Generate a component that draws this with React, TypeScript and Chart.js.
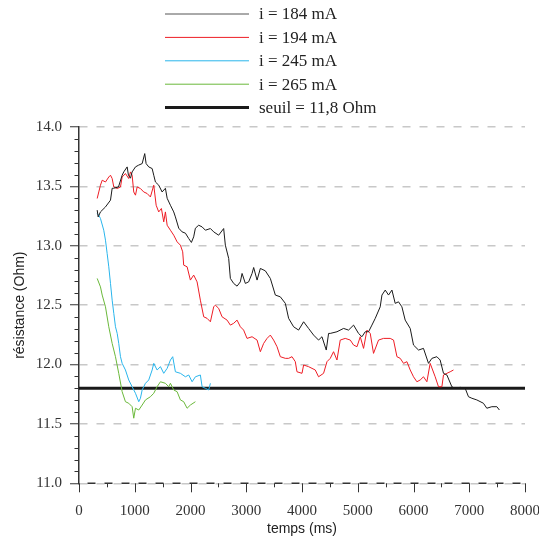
import React, { useEffect, useRef } from "react";
import { Chart, registerables } from "chart.js";

Chart.register(...registerables);

// i = 184 mA
const time184 = [326, 344, 385, 475, 565, 595, 618, 708, 774, 803, 864, 887, 923, 953, 1013, 1066, 1133, 1179, 1204, 1251, 1312, 1341, 1371, 1430, 1491, 1550, 1581, 1640, 1699, 1729, 1789, 1849, 1909, 1968, 2016, 2057, 2088, 2147, 2208, 2267, 2357, 2416, 2505, 2595, 2625, 2685, 2715, 2774, 2835, 2894, 2925, 2984, 3043, 3104, 3133, 3194, 3253, 3342, 3432, 3522, 3611, 3701, 3760, 3849, 3939, 4029, 4118, 4208, 4297, 4358, 4435, 4477, 4507, 4627, 4746, 4835, 4925, 5014, 5075, 5134, 5194, 5254, 5314, 5403, 5434, 5493, 5552, 5613, 5672, 5731, 5792, 5851, 5941, 6000, 6090, 6179, 6269, 6330, 6419, 6478, 6538, 6599, 6688, 6747, 6837, 6927, 6986, 7047, 7136, 7254, 7315, 7405, 7495, 7541];
const res184 = [13.3, 13.243, 13.285, 13.327, 13.384, 13.484, 13.484, 13.495, 13.594, 13.622, 13.664, 13.594, 13.569, 13.622, 13.664, 13.678, 13.692, 13.776, 13.692, 13.664, 13.65, 13.594, 13.537, 13.51, 13.453, 13.484, 13.4, 13.341, 13.285, 13.243, 13.148, 13.117, 13.106, 13.061, 13.028, 13.075, 13.148, 13.173, 13.159, 13.131, 13.145, 13.117, 13.089, 13.145, 13.005, 12.893, 12.725, 12.683, 12.66, 12.696, 12.767, 12.683, 12.696, 12.767, 12.817, 12.711, 12.809, 12.789, 12.725, 12.585, 12.57, 12.515, 12.389, 12.318, 12.29, 12.36, 12.304, 12.248, 12.206, 12.234, 12.122, 12.262, 12.262, 12.276, 12.304, 12.29, 12.332, 12.262, 12.234, 12.276, 12.276, 12.332, 12.389, 12.486, 12.585, 12.627, 12.585, 12.627, 12.515, 12.528, 12.486, 12.374, 12.304, 12.164, 12.122, 12.136, 12.01, 12.052, 12.066, 12.038, 11.926, 11.912, 11.813, 11.8, 11.808, 11.8, 11.729, 11.716, 11.702, 11.674, 11.632, 11.645, 11.645, 11.617];

// i = 194 mA
const time194 = [326, 355, 385, 416, 475, 534, 565, 595, 624, 685, 744, 774, 833, 892, 923, 953, 982, 1013, 1043, 1102, 1161, 1222, 1281, 1341, 1384, 1430, 1478, 1520, 1550, 1581, 1640, 1699, 1760, 1819, 1860, 1878, 1939, 1998, 2057, 2118, 2177, 2237, 2297, 2357, 2416, 2446, 2505, 2566, 2656, 2715, 2774, 2835, 2894, 2953, 3014, 3104, 3194, 3253, 3312, 3373, 3432, 3491, 3552, 3611, 3701, 3760, 3821, 3880, 3910, 4000, 4029, 4118, 4238, 4297, 4387, 4448, 4507, 4566, 4627, 4686, 4776, 4866, 4925, 4986, 5045, 5104, 5165, 5224, 5283, 5373, 5462, 5582, 5642, 5703, 5762, 5821, 5882, 5941, 6000, 6061, 6120, 6179, 6240, 6299, 6389, 6448, 6509, 6538, 6599, 6658, 6717];
const res194 = [13.398, 13.453, 13.51, 13.552, 13.537, 13.579, 13.594, 13.566, 13.495, 13.482, 13.495, 13.579, 13.608, 13.566, 13.622, 13.594, 13.453, 13.426, 13.495, 13.482, 13.453, 13.44, 13.411, 13.51, 13.341, 13.285, 13.314, 13.201, 13.285, 13.173, 13.131, 13.089, 13.033, 13.005, 12.949, 12.837, 12.823, 12.711, 12.753, 12.696, 12.542, 12.402, 12.389, 12.36, 12.486, 12.5, 12.473, 12.402, 12.374, 12.332, 12.347, 12.374, 12.318, 12.29, 12.22, 12.234, 12.206, 12.108, 12.178, 12.22, 12.248, 12.206, 12.15, 12.066, 12.052, 12.052, 12.066, 12.024, 11.939, 11.926, 11.996, 11.982, 11.954, 11.897, 11.926, 12.024, 12.052, 12.108, 12.038, 12.206, 12.22, 12.206, 12.164, 12.15, 12.234, 12.136, 12.29, 12.262, 12.094, 12.206, 12.22, 12.22, 12.206, 12.066, 12.052, 12.01, 12.024, 11.954, 11.897, 11.855, 11.87, 11.897, 11.855, 12.01, 11.897, 11.813, 11.813, 11.912, 11.926, 11.939, 11.954];

// i = 245 mA
const time245 = [326, 355, 385, 444, 475, 505, 534, 565, 595, 624, 654, 685, 713, 744, 774, 833, 892, 953, 1013, 1072, 1102, 1133, 1192, 1251, 1312, 1341, 1401, 1461, 1520, 1581, 1640, 1681, 1729, 1819, 1909, 1968, 2029, 2088, 2177, 2208, 2267, 2326, 2357];
const res245 = [13.272, 13.257, 13.23, 13.131, 13.047, 12.935, 12.823, 12.683, 12.542, 12.431, 12.318, 12.262, 12.178, 12.066, 12.01, 11.954, 11.87, 11.813, 11.758, 11.687, 11.716, 11.786, 11.842, 11.87, 11.954, 12.01, 11.954, 11.982, 11.926, 11.968, 12.038, 12.066, 11.939, 11.926, 11.897, 11.912, 11.855, 11.897, 11.912, 11.813, 11.8, 11.786, 11.842];

// i = 265 mA
const time265 = [326, 385, 416, 475, 534, 595, 654, 713, 774, 833, 892, 953, 982, 1013, 1072, 1133, 1192, 1281, 1341, 1401, 1461, 1550, 1609, 1640, 1699, 1760, 1819, 1878, 1939, 1998, 2088];
const res265 = [12.725, 12.654, 12.585, 12.486, 12.318, 12.178, 12.066, 11.926, 11.771, 11.687, 11.674, 11.645, 11.548, 11.632, 11.617, 11.659, 11.702, 11.729, 11.758, 11.813, 11.855, 11.842, 11.813, 11.842, 11.786, 11.771, 11.702, 11.687, 11.632, 11.659, 11.687];

// seuil
const thresholdTime = [0, 8000];
const thresholdRes = [11.8, 11.8];

const seriesLabels = ["i = 184 mA", "i = 194 mA", "i = 245 mA", "i = 265 mA", "seuil = 11,8 Ohm"];
const xTitle = "temps (ms)";
const yTitle = "résistance (Ohm)";
const xMin = 0, xMax = 8000, xStep = 1000, xMinor = 500;
const yMin = 11.0, yMax = 14.0, yStep = 0.5, yMinor = 0.1;

const SERIF = "'Liberation Serif', 'Times New Roman', serif";
const SANS = "'Liberation Sans', Arial, sans-serif";

const toPoints = (t: number[], v: number[]) => t.map((x, i) => ({ x, y: v[i] }));

const legendPlugin = {
  id: "customLegend",
  afterDraw(chart: any) {
    const ctx = chart.ctx;
    ctx.save();
    chart.data.datasets.forEach((ds: any, i: number) => {
      const y = 14 + i * 23.4;
      ctx.strokeStyle = ds.legendColor || ds.borderColor;
      ctx.lineWidth = ds.borderWidth;
      ctx.beginPath();
      ctx.moveTo(165, y);
      ctx.lineTo(249, y);
      ctx.stroke();
      ctx.fillStyle = "#222";
      ctx.font = `17px ${SERIF}`;
      ctx.textBaseline = "middle";
      ctx.textAlign = "left";
      ctx.fillText(ds.label, 259, y + 1);
    });
    ctx.restore();
  },
};

const axisPlugin = {
  id: "axisDecor",
  afterDraw(chart: any) {
    const ctx = chart.ctx;
    const xs = chart.scales.x;
    const ys = chart.scales.y;
    ctx.save();
    // dashed dark bottom axis line (alternates with grey grid dashes)
    ctx.strokeStyle = "#333";
    ctx.lineWidth = 1.5;
    ctx.setLineDash([8, 9]);
    ctx.lineDashOffset = 8.5;
    ctx.beginPath();
    ctx.moveTo(xs.left, ys.bottom);
    ctx.lineTo(xs.right, ys.bottom);
    ctx.stroke();
    ctx.setLineDash([]);
    // ticks
    ctx.lineWidth = 1;
    ctx.beginPath();
    const ax = Math.round(xs.left) - 0.5;
    for (let k = 0; ; k++) {
      const v = yMin + k * yMinor;
      if (v > yMax + 1e-9) break;
      if (k % 5 === 0) continue;
      const py = Math.round(ys.getPixelForValue(v)) + 0.5;
      ctx.moveTo(ax - 4, py);
      ctx.lineTo(ax, py);
    }
    const ay = ys.bottom;
    for (let k = 0; ; k++) {
      const v = xMin + k * xMinor;
      if (v > xMax + 1e-9) break;
      const len = k % 2 === 0 ? 9 : 4;
      const px = Math.round(xs.getPixelForValue(v)) + 0.5;
      ctx.moveTo(px, ay);
      ctx.lineTo(px, ay + len);
    }
    ctx.stroke();
    ctx.restore();
  },
};

export default function App() {
  const ref = useRef<HTMLCanvasElement>(null);
  useEffect(() => {
    const canvas = ref.current!;
    const chart = new Chart(canvas, {
      type: "line",
      data: {
        datasets: [
          { label: seriesLabels[0], data: toPoints(time184, res184), borderColor: "#1a1a1a", legendColor: "#555", borderWidth: 1 } as any,
          { label: seriesLabels[1], data: toPoints(time194, res194), borderColor: "#ee1c24", borderWidth: 1 },
          { label: seriesLabels[2], data: toPoints(time245, res245), borderColor: "#29b5ec", borderWidth: 1 },
          { label: seriesLabels[3], data: toPoints(time265, res265), borderColor: "#6ab83a", borderWidth: 1 },
          { label: seriesLabels[4], data: toPoints(thresholdTime, thresholdRes), borderColor: "#1a1a1a", borderWidth: 3 },
        ],
      },
      options: {
        responsive: false,
        animation: false,
        events: [],
        elements: { point: { radius: 0 }, line: { tension: 0 } },
        layout: { padding: { top: 127, left: 0, right: 14, bottom: 0 } },
        plugins: { legend: { display: false }, tooltip: { enabled: false } },
        scales: {
          x: {
            type: "linear",
            min: xMin,
            max: xMax,
            afterFit: (s: any) => {
              s.height = 58.7;
              s.paddingLeft = 0;
              s.paddingRight = 0;
            },
            ticks: {
              stepSize: xStep,
              font: { family: SERIF, size: 15 },
              color: "#333",
              padding: 10,
              maxRotation: 0,
              autoSkip: false,
              callback: (v: any) => String(v),
            },
            grid: {
              drawOnChartArea: false,
              drawTicks: true,
              tickLength: 9,
              tickColor: "rgba(0,0,0,0)",
              tickWidth: 1,
            },
            border: { display: false },
            title: {
              display: true,
              text: xTitle,
              font: { family: SANS, size: 14 },
              color: "#222",
              padding: { top: 0, bottom: 4 },
            },
          },
          y: {
            type: "linear",
            min: yMin,
            max: yMax,
            afterFit: (s: any) => {
              s.width = 79;
              s.paddingTop = 0;
              s.paddingBottom = 0;
            },
            ticks: {
              stepSize: yStep,
              font: { family: SERIF, size: 15 },
              color: "#333",
              padding: 8,
              callback: (v: any) => Number(v).toFixed(1),
            },
            grid: {
              color: "#c8c8c8",
              lineWidth: 1.5,
              drawTicks: true,
              tickLength: 9,
              tickColor: "#333",
              tickWidth: 1,
            },
            border: { display: true, color: "#333", width: 1.5, dash: [8, 9] },
            title: {
              display: true,
              text: yTitle,
              font: { family: SANS, size: 14 },
              color: "#222",
              padding: { top: 11.6, bottom: 0 },
            },
          },
        },
      } as any,
      plugins: [legendPlugin, axisPlugin],
    });
    return () => chart.destroy();
  }, []);
  return (
    <div style={{ position: "fixed", left: 0, top: 0, width: 539, height: 542, background: "#fff" }}>
      <canvas ref={ref} width={539} height={542} style={{ display: "block" }} />
    </div>
  );
}
